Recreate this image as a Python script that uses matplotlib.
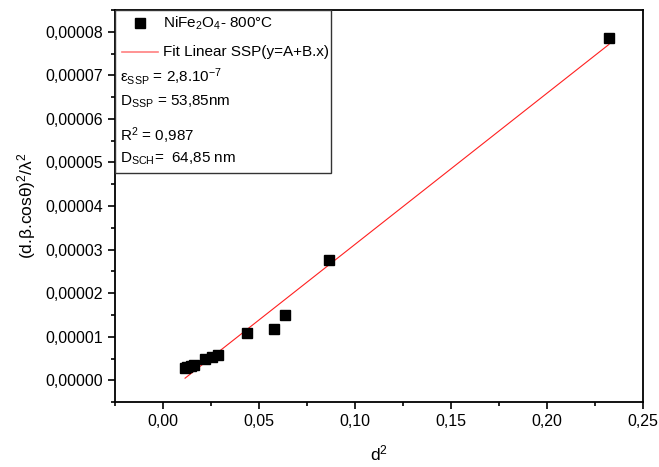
import matplotlib.pyplot as plt
import numpy as np
from matplotlib.patches import Rectangle
from matplotlib.lines import Line2D
from matplotlib.ticker import FuncFormatter, MultipleLocator

plt.rcParams["font.family"] = ["Liberation Sans", "DejaVu Sans"]
plt.rcParams["mathtext.fontset"] = "custom"
plt.rcParams["mathtext.rm"] = "Liberation Sans"
plt.rcParams["mathtext.it"] = "Liberation Sans"
plt.rcParams["mathtext.default"] = "regular"

# data
d2 = [0.0115, 0.0125, 0.0148, 0.0160, 0.0217, 0.0255, 0.0288,
      0.0437, 0.0578, 0.0635, 0.0865, 0.2323]
ssp = [2.9e-6, 3.0e-6, 3.2e-6, 3.4e-6, 4.8e-6, 5.4e-6, 5.7e-6,
       1.08e-5, 1.17e-5, 1.50e-5, 2.77e-5, 7.86e-5]

# linear fit y = A + B.x
fit_A = -3.5e-6
fit_B = 3.47e-4
fit_x = [0.0115, 0.2323]

legend_lines = [
    r"$\varepsilon_{SSP}$ = 2,8.10$^{-7}$",
    r"D$_{SSP}$ = 53,85nm",
    r"R$^2$ = 0,987",
    r"D$_{SCH}$=  64,85 nm",
]

fig = plt.figure(figsize=(6.59, 4.67), dpi=100)
ax = fig.add_axes([0.1745, 0.139, 0.8012, 0.8396])

fx = np.array(fit_x)
ax.plot(fx, fit_A + fit_B * fx, color="#ff2020", lw=0.8, zorder=2)
ax.plot(d2, ssp, "s", color="black", ms=7, zorder=3)

ax.set_xlim(-0.025, 0.25)
ax.set_ylim(-0.5e-5, 8.5e-5)
ax.xaxis.set_major_locator(MultipleLocator(0.05))
ax.xaxis.set_minor_locator(MultipleLocator(0.025))
ax.yaxis.set_major_locator(MultipleLocator(1e-5))
ax.yaxis.set_minor_locator(MultipleLocator(5e-6))
ax.xaxis.set_major_formatter(FuncFormatter(lambda v, p: f"{v:.2f}".replace(".", ",")))
ax.yaxis.set_major_formatter(FuncFormatter(lambda v, p: f"{abs(v) if abs(v) < 1e-12 else v:.5f}".replace(".", ",")))
ax.tick_params(which="major", direction="out", length=5, width=1.2, labelsize=11.5)
ax.tick_params(which="minor", direction="out", length=3, width=1.2)
for s in ax.spines.values():
    s.set_linewidth(1.3)

ax.set_xlabel("d$^2$", fontsize=12.5)
ax.set_ylabel(r"(d.$\beta$.cos$\theta$)$^2$/$\lambda^2$", fontsize=12.5)
ax.xaxis.set_label_coords(0.5, -0.105)
ax.yaxis.set_label_coords(-0.145, 0.5)

# legend box drawn by hand
tr = ax.transAxes
ax.add_patch(Rectangle((0.0, 0.585), 0.409, 0.415, transform=tr, fill=False,
                       edgecolor="#333333", lw=1.0, zorder=4))
ax.add_line(Line2D([0.047], [0.967], transform=tr, marker="s", color="black", ms=7))
ax.add_line(Line2D([0.013, 0.082], [0.893], transform=tr, color="#ff8080", lw=1.2))
ax.text(0.091, 0.967, r"NiFe$_2$O$_4$- 800°C", transform=tr, fontsize=11, va="center")
ax.text(0.091, 0.893, "Fit Linear SSP(y=A+B.x)", transform=tr, fontsize=11, va="center")
ys = [0.83, 0.765, 0.68, 0.62]
for y, t in zip(ys, legend_lines):
    ax.text(0.01, y, t, transform=tr, fontsize=11, va="center")

fig.savefig("out.png", dpi=100)
